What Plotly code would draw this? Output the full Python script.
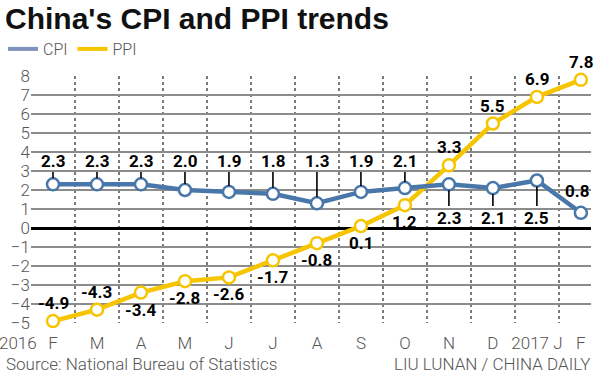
import plotly.graph_objects as go

months = ["F", "M", "A", "M", "J", "J", "A", "S", "O", "N", "D", "2017 J", "F"]
cpi = [2.3, 2.3, 2.3, 2.0, 1.9, 1.8, 1.3, 1.9, 2.1, 2.3, 2.1, 2.5, 0.8]
ppi = [-4.9, -4.3, -3.4, -2.8, -2.6, -1.7, -0.8, 0.1, 1.2, 3.3, 5.5, 6.9, 7.8]
# label placement: "up" / "down" / "free"
cpi_side = ["up"] * 9 + ["down", "down", "down", "free"]
ppi_side = ["up", "up", "down", "down", "down", "down", "down", "down", "down", "up", "up", "up", "up"]
y_ticks = list(range(-5, 9))

CPI_C = "#4a77aa"
PPI_C = "#f6c500"
x = list(range(len(months)))

fig = go.Figure()
fig.add_trace(go.Scatter(x=x, y=ppi, mode="lines+markers", showlegend=False,
                         line=dict(color=PPI_C, width=4.5),
                         marker=dict(size=12, color="white", line=dict(color=PPI_C, width=2.5)),
                         cliponaxis=False))
fig.add_trace(go.Scatter(x=x, y=cpi, mode="lines+markers", showlegend=False,
                         line=dict(color=CPI_C, width=4.5),
                         marker=dict(size=12, color="white", line=dict(color=CPI_C, width=2.5)),
                         cliponaxis=False))
# legend-only samples
fig.add_trace(go.Scatter(x=[None], y=[None], mode="lines", name="CPI",
                         line=dict(color="#7f93bf", width=4)))
fig.add_trace(go.Scatter(x=[None], y=[None], mode="lines", name="PPI",
                         line=dict(color=PPI_C, width=4)))

lab_font = dict(family="Roboto", size=17, color="black", weight="bold")
ann = []
for i, (v, s) in enumerate(zip(cpi, cpi_side)):
    txt = f"{v:.1f}"
    if s == "up":
        ann.append(dict(x=i, y=v, ax=i, ay=3.55, axref="x", ayref="y", text=txt,
                        showarrow=True, arrowhead=0, arrowwidth=1.6, arrowcolor="black",
                        standoff=6, font=lab_font))
    elif s == "down":
        ann.append(dict(x=i, y=v, ax=i, ay=0.55, axref="x", ayref="y", text=txt,
                        showarrow=True, arrowhead=0, arrowwidth=1.6, arrowcolor="black",
                        standoff=6, font=lab_font))
    else:
        ann.append(dict(x=i, y=v, text=txt, showarrow=False, yshift=22, xshift=-4, font=lab_font))
for i, (v, s) in enumerate(zip(ppi, ppi_side)):
    txt = f"{v:.1f}"
    ann.append(dict(x=i, y=v, text=txt, showarrow=False,
                    yshift=18 if s == "up" else -17, font=lab_font))

grey_font = dict(family="Roboto", size=17, color="#555555", weight=300)
ann.append(dict(x=0, y=-5, xref="x", yref="y", text="2016", showarrow=False,
                xanchor="right", yanchor="top", xshift=-14, yshift=-8, font=grey_font))
ann.append(dict(x=0, y=1, xref="paper", yref="paper", text="<b>China's CPI and PPI trends</b>",
                showarrow=False, xanchor="left", yanchor="middle", font=dict(family="Liberation Sans", size=30, color="#111111")))
ann.append(dict(x=5, y=364, xref="paper", yref="paper", text="Source: National Bureau of Statistics",
                showarrow=False, font=grey_font))
ann.append(dict(x=1, y=0, xref="paper", yref="paper", text="LIU LUNAN / CHINA DAILY",
                showarrow=False, font=grey_font))

# place paper-anchored texts in pixel terms
L, R, T, B = 31, 9, 76, 55
W, H = 600, 378
pw, ph = W - L - R, H - T - B
def px(xp): return (xp - L) / pw
def py(yp): return (H - B - yp) / ph
ann[-3].update(x=px(3), y=py(18), xanchor="left")
ann[-2].update(x=px(4), y=py(364), xanchor="left", yanchor="middle")
ann[-1].update(x=px(592), y=py(364), xanchor="right", yanchor="middle")

fig.update_layout(
    width=W, height=H, margin=dict(l=L, r=R, t=T, b=B, autoexpand=False),
    plot_bgcolor="white", paper_bgcolor="white",
    annotations=ann,
    showlegend=True,
    legend=dict(orientation="h", x=px(3), y=py(49), xanchor="left", yanchor="middle",
                font=dict(family="Roboto", size=16, color="#555555", weight=300),
                itemwidth=30, tracegroupgap=0, bgcolor="rgba(0,0,0,0)"),
    xaxis=dict(range=[-0.5, 12.23], tickmode="array", tickvals=x, ticktext=months,
               showgrid=False, zeroline=False, showline=False, ticks="", automargin=False,
               tickfont=grey_font, ticklen=0, ticklabelstandoff=8,
               minor=dict(tickmode="array", tickvals=[i + 0.5 for i in x[:-1]], showgrid=True,
                          griddash="dot", gridcolor="#7a7a7a", gridwidth=1.5, ticks="")),
    yaxis=dict(range=[-5, 8], tickmode="array", tickvals=y_ticks, showgrid=True, automargin=False,
               gridcolor="#8c8c8c", gridwidth=2, zeroline=True, zerolinecolor="black",
               zerolinewidth=2.5, showline=False, ticks="", tickfont=grey_font),
)
fig.write_html("out.html", post_script="document.body.style.margin='0';",
               config={"displayModeBar": False})
